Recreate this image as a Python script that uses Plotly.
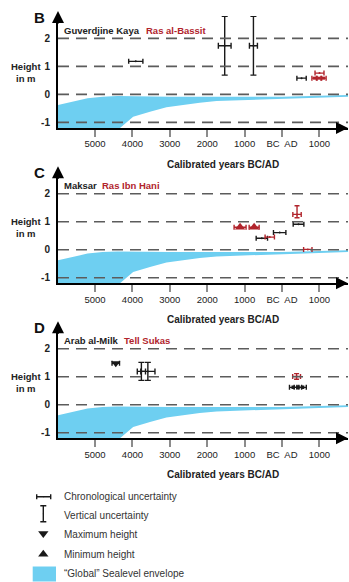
import plotly.graph_objects as go

W, H = 349, 582


def px(x):
    return x / W


def py(y):
    return 1 - y / H


def an(n):
    return "" if n == 1 else str(n)


RED = "#B1242C"
BLACK = "#1a1a1a"
BLUE = "#6ECFF1"
GRID = "#5c5c5c"
FONT = "Liberation Sans"

# ---------------- data ----------------
TICK_YEARS = [-5000, -4000, -3000, -2000, -1000, 0, 1000]
TICK_LABELS = ["5000", "4000", "3000", "2000", "1000", "BC  AD", "1000"]
HEIGHT_LEVELS = [-1, 0, 1, 2]
HEIGHT_LABELS = ["-1", "0", "1", "2"]

ENV_UPPER_YEARS = [-6000, -5600, -5200, -4800, -4400, -3000, -1500, 0, 1000, 1800]
ENV_UPPER = [-0.38, -0.26, -0.14, -0.08, -0.06, -0.08, -0.09, -0.08, -0.05, -0.02]
ENV_LOWER_YEARS = [-6000, -4600, -4340, -3980, -3530, -3090, -2640, -2200, -1750, -1300, -400, 490, 1800]
ENV_LOWER = [-2.0, -1.5, -1.21, -0.80, -0.62, -0.46, -0.38, -0.30, -0.24, -0.20, -0.17, -0.13, -0.08]

# Panel B: Guverdjine Kaya (black) / Ras al-Bassit (red)
B_BLACK_H_X = [-3910, 523]
B_BLACK_H_Y = [1.18, 0.58]
B_BLACK_H_XERR = [190, 125]
B_BLACK_CROSS_X = [-1532, -764]
B_BLACK_CROSS_Y = [1.74, 1.74]
B_BLACK_CROSS_XERR = [170, 107]
B_BLACK_CROSS_YERR = [1.05, 1.05]
B_RED_H_X = [1003]
B_RED_H_Y = [0.76]
B_RED_H_XERR = [120]
B_RED_DOT_X = [870, 990, 1110]
B_RED_DOT_Y = [0.58, 0.58, 0.58]
B_RED_DOT_XERR = [70, 70, 70]

# Panel C: Maksar (black) / Ras Ibn Hani (red)
C_RED_MIN_X = [-1121, -745]
C_RED_MIN_Y = [0.80, 0.80]
C_RED_MIN_XERR = [160, 134]
C_BLACK_H_X = [-539, -62, 442]
C_BLACK_H_Y = [0.41, 0.61, 0.91]
C_BLACK_H_XERR = [152, 166, 143]
C_RED_H_X = [-327, 690]
C_RED_H_Y = [0.45, 0.01]
C_RED_H_XERR = [125, 112]
C_RED_CROSS_X = [402]
C_RED_CROSS_Y = [1.26]
C_RED_CROSS_XERR = [112]
C_RED_CROSS_YERR_PLUS = [0.31]
C_RED_CROSS_YERR_MINUS = [0.12]

# Panel D: Arab al-Milk (black) / Tell Sukas (red)
D_BLACK_MAX_X = [-4445]
D_BLACK_MAX_Y = [1.48]
D_BLACK_MAX_XERR = [100]
D_BLACK_CROSS_X = [-3760, -3587]
D_BLACK_CROSS_Y = [1.19, 1.19]
D_BLACK_CROSS_XERR = [110, 190]
D_BLACK_CROSS_YERR = [0.32, 0.32]
D_RED_CROSS_X = [390]
D_RED_CROSS_Y = [1.01]
D_RED_CROSS_XERR = [105]
D_RED_CROSS_YERR = [0.1]
D_BLACK_DOT_X = [300, 425, 550]
D_BLACK_DOT_Y = [0.62, 0.62, 0.62]
D_BLACK_DOT_XERR = [100, 100, 100]

LEGEND_TEXTS = ["Chronological uncertainty", "Vertical uncertainty", "Maximum height",
                "Minimum height", "\u201cGlobal\u201d Sealevel envelope"]

# ---------------- layout geometry ----------------
X_LEFT, X_RIGHT = 58, 348
X_RANGE = [-5990, 1765]
Y_RANGE = [-1.2, 2.8]
PANELS = [
    dict(letter="B", top=16, bottom=128, black="Guverdjine Kaya", red="Ras al-Bassit", red_x=144),
    dict(letter="C", top=171.3, bottom=283.3, black="Maksar", red="Ras Ibn Hani", red_x=100),
    dict(letter="D", top=326.3, bottom=438.3, black="Arab al-Milk", red="Tell Sukas", red_x=122),
]

fig = go.Figure()

annotations = []
shapes = []


def text_at(x, y, text, size, color, anchor="center", family=FONT):
    annotations.append(dict(x=px(x), y=py(y), xref="paper", yref="paper",
                            xanchor=anchor, yanchor="middle", text=text, showarrow=False,
                            align="center", font=dict(family=family, size=size, color=color)))


def hbar(i, xs, ys, xerr, color, symbol="circle", size=2, yerr=None, yerrminus=None, cap=2.5):
    ey = None
    if yerr is not None:
        ey = dict(type="data", array=yerr, color=color, thickness=1.4, width=cap)
        if yerrminus is not None:
            ey["symmetric"] = False
            ey["arrayminus"] = yerrminus
    fig.add_trace(go.Scatter(
        x=xs, y=ys, mode="markers", xaxis=f"x{an(i)}", yaxis=f"y{an(i)}",
        marker=dict(color=color, size=size, symbol=symbol, line=dict(width=0)),
        error_x=dict(type="data", array=xerr, color=color, thickness=1.4, width=cap),
        error_y=ey, showlegend=False, hoverinfo="skip"))


for n, p in enumerate(PANELS, start=1):
    # envelope polygon
    fig.add_trace(go.Scatter(
        x=ENV_UPPER_YEARS + ENV_LOWER_YEARS[::-1],
        y=ENV_UPPER + ENV_LOWER[::-1],
        fill="toself", fillcolor=BLUE, mode="lines", line=dict(width=0),
        xaxis=f"x{an(n)}", yaxis=f"y{an(n)}", showlegend=False, hoverinfo="skip"))

    fig.layout[f"xaxis{an(n)}"] = dict(
        domain=[px(X_LEFT), px(X_RIGHT)], range=X_RANGE, anchor=f"y{an(n)}",
        tickvals=TICK_YEARS, ticktext=TICK_LABELS, ticks="outside", ticklen=7,
        tickcolor="#8c8c8c", tickwidth=1.5, showline=True, linecolor="black", linewidth=2,
        showgrid=False, zeroline=False, ticklabelstandoff=-1, automargin=False,
        tickfont=dict(family=FONT, size=9.5, color="#222"))
    fig.layout[f"yaxis{an(n)}"] = dict(
        domain=[py(p["bottom"]), py(p["top"])], range=Y_RANGE, anchor=f"x{an(n)}",
        tickvals=HEIGHT_LEVELS, ticktext=HEIGHT_LABELS, ticks="", showline=True,
        linecolor="black", linewidth=2,
        showgrid=False, zeroline=False, ticklabelstandoff=4, automargin=False,
        tickfont=dict(family=FONT, size=10, color="#222", weight="bold"))

    for lv in HEIGHT_LEVELS:
        shapes.append(dict(type="line", xref=f"x{an(n)} domain", yref=f"y{an(n)}", x0=0, x1=1,
                           y0=lv, y1=lv, layer="above",
                           line=dict(color=GRID, width=1.6, dash="11px,7px")))

    # arrows
    annotations.append(dict(x=px(X_LEFT), y=py(p["top"] - 5), xref="paper", yref="paper",
                            showarrow=True, ax=0, ay=14, arrowhead=2, arrowsize=1.2,
                            arrowwidth=2, arrowcolor="black", text=""))
    annotations.append(dict(x=px(349), y=py(p["bottom"]), xref="paper", yref="paper",
                            showarrow=True, ax=-12, ay=0, arrowhead=2, arrowsize=1.2,
                            arrowwidth=2, arrowcolor="black", text=""))
    # panel letter
    text_at(39.5, p["top"] + 1.5, f"<b>{p['letter']}</b>", 15, "#111")
    # site names
    text_at(62, p["top"] + 14, f"<b>{p['black']}</b>", 9.5, "#222", anchor="left")
    text_at(p["red_x"], p["top"] + 14, f"<b>{p['red']}</b>", 9.5, RED, anchor="left")
    # Height in m
    text_at(26, p["top"] + 56, "<b>Height</b><br><b>in m</b>", 9.5, "#222")
    # x title
    text_at(223, p["bottom"] + 36, "<b>Calibrated years BC/AD</b>", 10, "#222")

# Panel B marks
hbar(1, B_BLACK_H_X, B_BLACK_H_Y, B_BLACK_H_XERR, BLACK)
hbar(1, B_BLACK_CROSS_X, B_BLACK_CROSS_Y, B_BLACK_CROSS_XERR, BLACK, yerr=B_BLACK_CROSS_YERR, cap=3)
hbar(1, B_RED_H_X, B_RED_H_Y, B_RED_H_XERR, RED)
hbar(1, B_RED_DOT_X, B_RED_DOT_Y, B_RED_DOT_XERR, RED, symbol="square", size=3)

# Panel C marks
hbar(2, C_RED_MIN_X, C_RED_MIN_Y, C_RED_MIN_XERR, RED, symbol="triangle-up", size=9)
hbar(2, C_BLACK_H_X, C_BLACK_H_Y, C_BLACK_H_XERR, BLACK)
hbar(2, C_RED_H_X, C_RED_H_Y, C_RED_H_XERR, RED)
hbar(2, C_RED_CROSS_X, C_RED_CROSS_Y, C_RED_CROSS_XERR, RED,
     yerr=C_RED_CROSS_YERR_PLUS, yerrminus=C_RED_CROSS_YERR_MINUS)

# Panel D marks
hbar(3, D_BLACK_MAX_X, D_BLACK_MAX_Y, D_BLACK_MAX_XERR, BLACK, symbol="triangle-down", size=8)
hbar(3, D_BLACK_CROSS_X, D_BLACK_CROSS_Y, D_BLACK_CROSS_XERR, BLACK, yerr=D_BLACK_CROSS_YERR, cap=3)
hbar(3, D_RED_CROSS_X, D_RED_CROSS_Y, D_RED_CROSS_XERR, RED, yerr=D_RED_CROSS_YERR)
hbar(3, D_BLACK_DOT_X, D_BLACK_DOT_Y, D_BLACK_DOT_XERR, BLACK, symbol="square", size=3.5)

# ---------------- legend (hidden pixel axis) ----------------
LEG_Y = [496.7, 515.7, 534.5, 554.3, 573.5]
fig.layout["xaxis4"] = dict(domain=[0, 1], range=[0, W], visible=False, anchor="y4", automargin=False)
fig.layout["yaxis4"] = dict(domain=[0, py(485)], range=[H, 485], visible=False, anchor="x4", automargin=False)
fig.add_trace(go.Scatter(x=[43.7], y=[LEG_Y[0]], mode="markers", xaxis="x4", yaxis="y4",
                         marker=dict(size=1, color=BLACK),
                         error_x=dict(type="data", array=[7], color=BLACK, thickness=1.4, width=2.5),
                         showlegend=False, hoverinfo="skip"))
fig.add_trace(go.Scatter(x=[43.3], y=[LEG_Y[1] - 2], mode="markers", xaxis="x4", yaxis="y4",
                         marker=dict(size=1, color=BLACK),
                         error_y=dict(type="data", array=[8], color=BLACK, thickness=1.4, width=3),
                         showlegend=False, hoverinfo="skip"))
fig.add_trace(go.Scatter(x=[43.3, 43.3], y=[LEG_Y[2] - 1, LEG_Y[3]], mode="markers",
                         xaxis="x4", yaxis="y4",
                         marker=dict(size=9, color=BLACK, symbol=["triangle-down", "triangle-up"]),
                         showlegend=False, hoverinfo="skip"))
shapes.append(dict(type="rect", xref="x4", yref="y4", x0=32.7, x1=56, y0=566.5, y1=581.5,
                   fillcolor=BLUE, line=dict(width=0), layer="below"))
for t, yy in zip(LEGEND_TEXTS, LEG_Y):
    text_at(62, yy, t, 10, "#333", anchor="left")

fig.update_layout(template="none", width=W, height=H,
                  margin=dict(l=0, r=0, t=0, b=0, pad=0, autoexpand=False),
                  paper_bgcolor="white", plot_bgcolor="white",
                  annotations=annotations, shapes=shapes, showlegend=False)

fig.write_html(
    "out.html",
    config={"displayModeBar": False},
    post_script="document.body.style.margin='0';document.body.style.overflow='hidden';"
                "document.documentElement.style.overflow='hidden';",
)
